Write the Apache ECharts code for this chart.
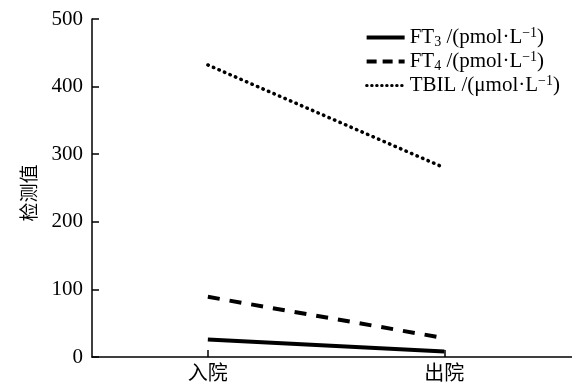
<!DOCTYPE html>
<html>
<head>
<meta charset="utf-8">
<script src="https://cdn.jsdelivr.net/npm/echarts@6/dist/echarts.min.js"></script>
<style>
  html, body { margin: 0; padding: 0; background: #fff; }
  #chart { width: 572px; height: 388px; }
</style>
</head>
<body>
<div id="chart"></div>
<script>
// 数据
const categories = ['入院', '出院']
const ft3 = [26, 8]
const ft4 = [89, 28]
const tbil = [432, 280]
const yTicks = [0, 100, 200, 300, 400, 500]

const serif = '"Liberation Serif", "Times New Roman", "Noto Sans CJK SC", serif'

// legend 里的上下标
const legendLabels = {
    ft3: '{n|FT}{sub|3}{n| /(pmol·L}{sup|−1}{n|)}',
    ft4: '{n|FT}{sub|4}{n| /(pmol·L}{sup|−1}{n|)}',
    tbil: '{n|TBIL /(μmol·L}{sup|−1}{n|)}'
}

const toPoints = arr => arr.map((v, i) => [i, v])

const chart = echarts.init(document.getElementById('chart'))

const options = {
    animation: false,
    backgroundColor: '#fff',
    grid: {
        left: 92,
        right: 0,
        top: 19,
        bottom: 31,
        containLabel: false
    },
    legend: {
        top: 21,
        right: 7,
        orient: 'vertical',
        itemWidth: 38,
        itemHeight: 12,
        itemGap: 1,
        itemStyle: { opacity: 0 },
        formatter: name => legendLabels[name],
        textStyle: {
            color: '#000',
            rich: {
                n: { fontFamily: serif, fontSize: 21, color: '#000', height: 23 },
                sub: { fontFamily: serif, fontSize: 14, color: '#000', verticalAlign: 'bottom', height: 23, padding: [9, 0, 0, 0] },
                sup: { fontFamily: serif, fontSize: 14, color: '#000', verticalAlign: 'top', height: 23, padding: [0, 0, 9, 0] }
            }
        },
        data: [
            { name: 'ft3', lineStyle: { width: 4, type: 'solid' } },
            { name: 'ft4', lineStyle: { width: 4, type: [10, 6] } },
            { name: 'tbil', lineStyle: { width: 3, type: [0.5, 4.5], cap: 'round' } }
        ]
    },
    xAxis: {
        type: 'value',
        min: -0.49,
        max: 1.54,
        splitLine: { show: false },
        axisLine: { onZero: false, lineStyle: { color: '#000', width: 1.5 } },
        axisTick: {
            inside: true,
            length: 7,
            customValues: [0, 1],
            lineStyle: { color: '#000', width: 1.5 }
        },
        axisLabel: {
            customValues: [0, 1],
            margin: 8,
            color: '#000',
            fontSize: 20,
            fontFamily: serif,
            formatter: v => categories[Math.round(v)]
        }
    },
    yAxis: {
        type: 'value',
        min: 0,
        max: 500,
        interval: 100,
        name: '检测值',
        nameLocation: 'middle',
        nameGap: 49,
        nameRotate: 90,
        nameTextStyle: { color: '#000', fontSize: 19, fontFamily: serif, padding: [0, 10, 0, 0] },
        splitLine: { show: false },
        axisLine: { show: true, onZero: false, lineStyle: { color: '#000', width: 1.5 } },
        axisTick: { show: true, inside: true, length: 7, lineStyle: { color: '#000', width: 1.5 } },
        axisLabel: {
            margin: 9,
            color: '#000',
            fontSize: 21,
            fontFamily: serif,
            formatter: v => yTicks.includes(v) ? String(v) : ''
        }
    },
    series: [
        {
            name: 'ft3',
            type: 'line',
            symbol: 'none',
            data: toPoints(ft3),
            lineStyle: { color: '#000', width: 4, type: 'solid' }
        },
        {
            name: 'ft4',
            type: 'line',
            symbol: 'none',
            data: toPoints(ft4),
            lineStyle: { color: '#000', width: 4, type: [12, 10] }
        },
        {
            name: 'tbil',
            type: 'line',
            symbol: 'none',
            data: toPoints(tbil),
            lineStyle: { color: '#000', width: 3.5, type: [0.5, 5.5], cap: 'round' }
        }
    ]
}

chart.setOption(options)
</script>
</body>
</html>
